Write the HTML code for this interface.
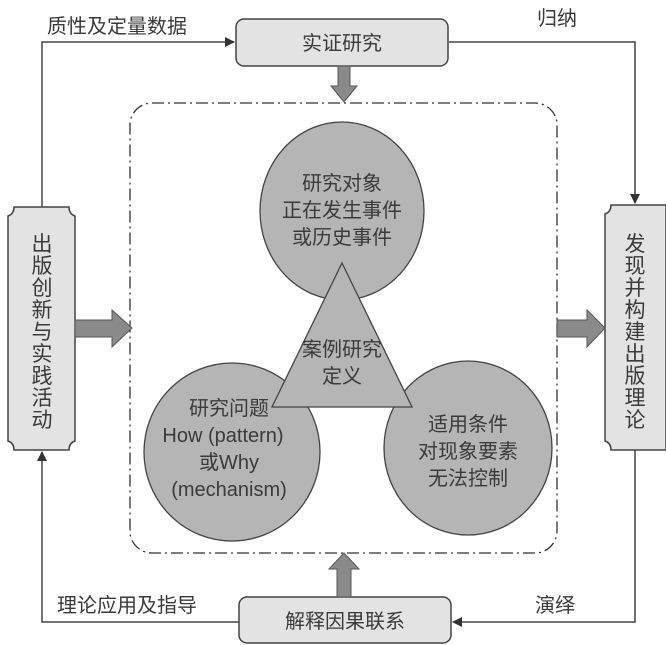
<!DOCTYPE html>
<html><head><meta charset="utf-8"><style>
html,body{margin:0;padding:0;background:#fff;}
svg{display:block;}
text{font-family:"Liberation Sans","Noto Sans CJK SC",sans-serif;fill:#3a3a3a;}
</style></head><body>
<svg width="666" height="645" viewBox="0 0 666 645" xmlns="http://www.w3.org/2000/svg">
<defs>
<marker id="ah" markerWidth="10" markerHeight="10" refX="9" refY="5" orient="auto" markerUnits="userSpaceOnUse">
<path d="M0,0 L10,5 L0,10 z" fill="#333"/></marker>
</defs>
<polyline points="42,207 42,42 234,42" fill="none" stroke="#444" stroke-width="1.5" marker-end="url(#ah)"/>
<polyline points="449,42 635,42 635,203" fill="none" stroke="#444" stroke-width="1.5" marker-end="url(#ah)"/>
<polyline points="635,450 635,622 453,622" fill="none" stroke="#444" stroke-width="1.5" marker-end="url(#ah)"/>
<polyline points="239,622 42,622 42,452" fill="none" stroke="#444" stroke-width="1.5" marker-end="url(#ah)"/>
<rect x="236" y="19" width="212" height="47" rx="8" fill="#e3e3e3" stroke="#444" stroke-width="1.5"/>
<text x="342" y="50" font-size="20" text-anchor="middle">实证研究</text>
<rect x="239" y="597" width="212" height="46" rx="8" fill="#e3e3e3" stroke="#444" stroke-width="1.5"/>
<text x="345" y="628" font-size="20" text-anchor="middle">解释因果联系</text>
<path d="M14,207 H69 Q69,214 75,216 V441 Q69,443 69,450 H14 Q14,443 8,441 V216 Q14,214 14,207 Z" fill="#e3e3e3" stroke="#444" stroke-width="1.5"/>
<path d="M611,205 H666 V450 H611 Q611,443 605,441 V214 Q611,212 611,205 Z" fill="#e3e3e3" stroke="#444" stroke-width="1.5"/>
<g font-size="21" text-anchor="middle">
<text x="42" y="251">出</text><text x="42" y="273">版</text><text x="42" y="295">创</text><text x="42" y="317">新</text><text x="42" y="339">与</text><text x="42" y="361">实</text><text x="42" y="383">践</text><text x="42" y="405">活</text><text x="42" y="427">动</text>
<text x="635" y="251">发</text><text x="635" y="273">现</text><text x="635" y="295">并</text><text x="635" y="317">构</text><text x="635" y="339">建</text><text x="635" y="361">出</text><text x="635" y="383">版</text><text x="635" y="405">理</text><text x="635" y="427">论</text>
</g>
<rect x="130" y="103" width="427" height="450" rx="22" fill="none" stroke="#333" stroke-width="1.3" stroke-dasharray="12,4,2,4"/>
<path d="M338,66 H350 V86 H357 L344,102 L331,86 H338 Z" fill="#8a8a8a" stroke="#555" stroke-width="1"/>
<path d="M337,597 H351 V569 H359 L344,553 L329,569 H337 Z" fill="#8a8a8a" stroke="#555" stroke-width="1"/>
<path d="M75,320 H112 V310 L132,328 L112,347 V337 H75 Z" fill="#8a8a8a" stroke="#555" stroke-width="1"/>
<path d="M557,320 H587 V310 L605,328 L587,347 V337 H557 Z" fill="#8a8a8a" stroke="#555" stroke-width="1"/>
<ellipse cx="342" cy="211" rx="82" ry="89" fill="#b5b5b5" stroke="#444" stroke-width="1.3"/>
<ellipse cx="232" cy="452" rx="88" ry="89" fill="#b5b5b5" stroke="#444" stroke-width="1.3"/>
<ellipse cx="468" cy="448" rx="84" ry="87" fill="#b5b5b5" stroke="#444" stroke-width="1.3"/>
<polygon points="342,263 412,407 272,407" fill="#b5b5b5" stroke="#444" stroke-width="1.3"/>
<g font-size="20" text-anchor="middle">
<text x="342" y="190">研究对象</text>
<text x="342" y="217">正在发生事件</text>
<text x="342" y="244">或历史事件</text>
<text x="342" y="356">案例研究</text>
<text x="342" y="383">定义</text>
<text x="229" y="415">研究问题</text>
<text x="223" y="442">How (pattern)</text>
<text x="229" y="469">或Why</text>
<text x="229" y="496">(mechanism)</text>
<text x="468" y="431">适用条件</text>
<text x="468" y="458">对现象要素</text>
<text x="468" y="485">无法控制</text>
<text x="117" y="33">质性及定量数据</text>
<text x="557" y="25">归纳</text>
<text x="127" y="612">理论应用及指导</text>
<text x="555" y="612">演绎</text>
</g>
</svg>
</body></html>
